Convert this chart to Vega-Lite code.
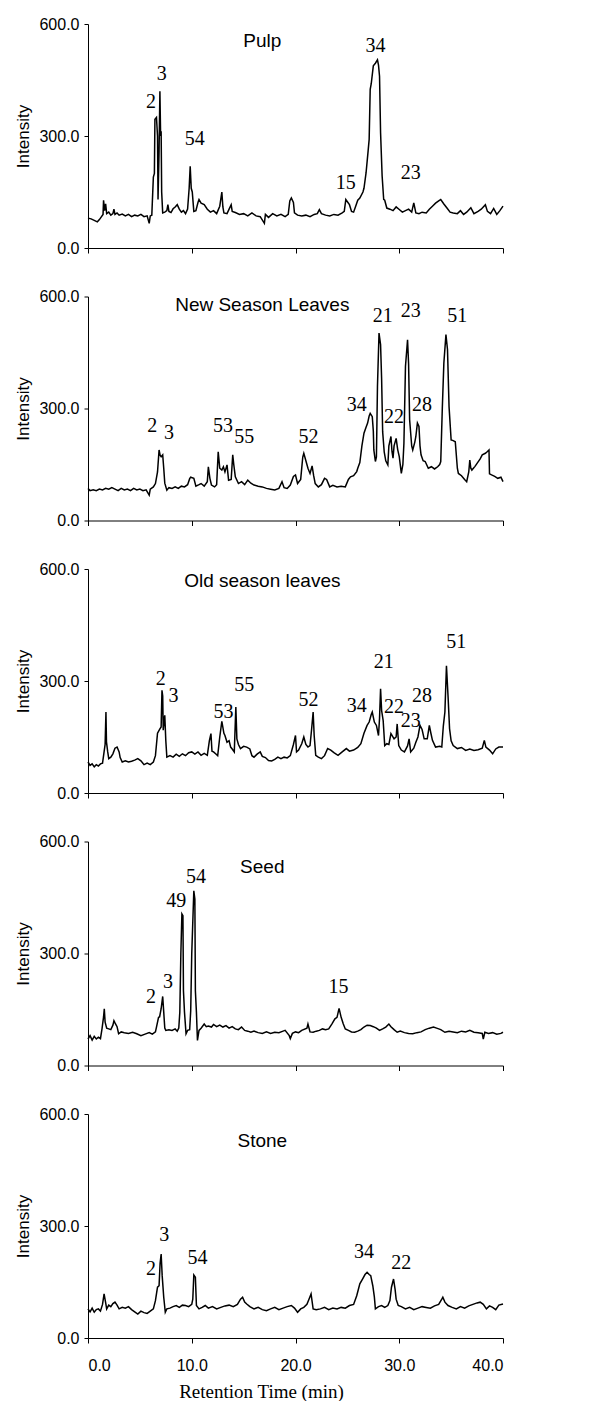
{
"$schema":"https://vega.github.io/schema/vega-lite/v6.json",
"padding":{"left":14,"top":16,"right":5,"bottom":0},
"spacing":48.5,
"bounds":"flush",
"config":{"view":{"stroke":null},"axis":{"grid":false,"domainColor":"black","tickColor":"black","labelColor":"black","titleColor":"black","labelFont":"Liberation Sans","titleFont":"Liberation Sans","labelFontSize":16,"titleFontWeight":"normal","domainWidth":1,"tickWidth":1}},
"datasets":{
"trace":[
{"p":"Pulp","t":0.0,"v":80},{"p":"Pulp","t":0.3,"v":78},{"p":"Pulp","t":0.6,"v":74},{"p":"Pulp","t":0.9,"v":70},{"p":"Pulp","t":1.1,"v":76},{"p":"Pulp","t":1.3,"v":84},{"p":"Pulp","t":1.45,"v":90},{"p":"Pulp","t":1.5,"v":128},{"p":"Pulp","t":1.6,"v":100},{"p":"Pulp","t":1.7,"v":118},{"p":"Pulp","t":1.8,"v":92},{"p":"Pulp","t":2.0,"v":96},{"p":"Pulp","t":2.2,"v":88},{"p":"Pulp","t":2.4,"v":92},{"p":"Pulp","t":2.5,"v":104},{"p":"Pulp","t":2.6,"v":90},{"p":"Pulp","t":2.8,"v":94},{"p":"Pulp","t":3.0,"v":88},{"p":"Pulp","t":3.3,"v":91},{"p":"Pulp","t":3.6,"v":86},{"p":"Pulp","t":3.9,"v":90},{"p":"Pulp","t":4.2,"v":84},{"p":"Pulp","t":4.5,"v":88},{"p":"Pulp","t":4.8,"v":86},{"p":"Pulp","t":5.1,"v":90},{"p":"Pulp","t":5.4,"v":84},{"p":"Pulp","t":5.7,"v":86},{"p":"Pulp","t":5.9,"v":66},{"p":"Pulp","t":6.0,"v":86},{"p":"Pulp","t":6.15,"v":88},{"p":"Pulp","t":6.3,"v":190},{"p":"Pulp","t":6.4,"v":200},{"p":"Pulp","t":6.45,"v":345},{"p":"Pulp","t":6.6,"v":350},{"p":"Pulp","t":6.7,"v":300},{"p":"Pulp","t":6.75,"v":130},{"p":"Pulp","t":6.85,"v":260},{"p":"Pulp","t":6.93,"v":420},{"p":"Pulp","t":7.0,"v":300},{"p":"Pulp","t":7.05,"v":313},{"p":"Pulp","t":7.1,"v":150},{"p":"Pulp","t":7.2,"v":94},{"p":"Pulp","t":7.4,"v":96},{"p":"Pulp","t":7.6,"v":100},{"p":"Pulp","t":7.7,"v":116},{"p":"Pulp","t":7.8,"v":98},{"p":"Pulp","t":8.0,"v":95},{"p":"Pulp","t":8.2,"v":105},{"p":"Pulp","t":8.4,"v":110},{"p":"Pulp","t":8.6,"v":116},{"p":"Pulp","t":8.8,"v":104},{"p":"Pulp","t":9.0,"v":96},{"p":"Pulp","t":9.2,"v":100},{"p":"Pulp","t":9.4,"v":92},{"p":"Pulp","t":9.6,"v":104},{"p":"Pulp","t":9.75,"v":160},{"p":"Pulp","t":9.85,"v":219},{"p":"Pulp","t":9.95,"v":160},{"p":"Pulp","t":10.05,"v":150},{"p":"Pulp","t":10.2,"v":98},{"p":"Pulp","t":10.4,"v":100},{"p":"Pulp","t":10.6,"v":122},{"p":"Pulp","t":10.7,"v":130},{"p":"Pulp","t":10.9,"v":120},{"p":"Pulp","t":11.2,"v":116},{"p":"Pulp","t":11.5,"v":104},{"p":"Pulp","t":11.8,"v":96},{"p":"Pulp","t":12.1,"v":100},{"p":"Pulp","t":12.4,"v":92},{"p":"Pulp","t":12.7,"v":112},{"p":"Pulp","t":12.9,"v":150},{"p":"Pulp","t":13.0,"v":110},{"p":"Pulp","t":13.1,"v":94},{"p":"Pulp","t":13.4,"v":92},{"p":"Pulp","t":13.6,"v":104},{"p":"Pulp","t":13.8,"v":116},{"p":"Pulp","t":13.9,"v":98},{"p":"Pulp","t":14.2,"v":95},{"p":"Pulp","t":14.6,"v":90},{"p":"Pulp","t":15.0,"v":92},{"p":"Pulp","t":15.4,"v":86},{"p":"Pulp","t":15.8,"v":94},{"p":"Pulp","t":16.2,"v":86},{"p":"Pulp","t":16.6,"v":84},{"p":"Pulp","t":17.0,"v":66},{"p":"Pulp","t":17.1,"v":90},{"p":"Pulp","t":17.4,"v":82},{"p":"Pulp","t":17.8,"v":92},{"p":"Pulp","t":18.2,"v":86},{"p":"Pulp","t":18.6,"v":90},{"p":"Pulp","t":19.0,"v":84},{"p":"Pulp","t":19.3,"v":90},{"p":"Pulp","t":19.45,"v":126},{"p":"Pulp","t":19.6,"v":134},{"p":"Pulp","t":19.8,"v":122},{"p":"Pulp","t":19.9,"v":94},{"p":"Pulp","t":20.2,"v":88},{"p":"Pulp","t":20.6,"v":86},{"p":"Pulp","t":21.0,"v":88},{"p":"Pulp","t":21.4,"v":84},{"p":"Pulp","t":21.8,"v":90},{"p":"Pulp","t":22.1,"v":92},{"p":"Pulp","t":22.3,"v":103},{"p":"Pulp","t":22.5,"v":92},{"p":"Pulp","t":22.9,"v":88},{"p":"Pulp","t":23.3,"v":86},{"p":"Pulp","t":23.7,"v":90},{"p":"Pulp","t":24.1,"v":88},{"p":"Pulp","t":24.5,"v":94},{"p":"Pulp","t":24.7,"v":98},{"p":"Pulp","t":24.85,"v":130},{"p":"Pulp","t":25.0,"v":124},{"p":"Pulp","t":25.2,"v":116},{"p":"Pulp","t":25.4,"v":98},{"p":"Pulp","t":25.6,"v":96},{"p":"Pulp","t":25.8,"v":112},{"p":"Pulp","t":26.0,"v":128},{"p":"Pulp","t":26.2,"v":134},{"p":"Pulp","t":26.5,"v":150},{"p":"Pulp","t":26.6,"v":160},{"p":"Pulp","t":26.8,"v":201},{"p":"Pulp","t":27.0,"v":260},{"p":"Pulp","t":27.1,"v":291},{"p":"Pulp","t":27.2,"v":425},{"p":"Pulp","t":27.3,"v":440},{"p":"Pulp","t":27.5,"v":488},{"p":"Pulp","t":27.7,"v":495},{"p":"Pulp","t":27.9,"v":504},{"p":"Pulp","t":28.0,"v":490},{"p":"Pulp","t":28.1,"v":460},{"p":"Pulp","t":28.2,"v":309},{"p":"Pulp","t":28.35,"v":193},{"p":"Pulp","t":28.5,"v":130},{"p":"Pulp","t":28.6,"v":128},{"p":"Pulp","t":28.8,"v":107},{"p":"Pulp","t":29.1,"v":104},{"p":"Pulp","t":29.4,"v":100},{"p":"Pulp","t":29.7,"v":110},{"p":"Pulp","t":30.0,"v":103},{"p":"Pulp","t":30.3,"v":96},{"p":"Pulp","t":30.6,"v":100},{"p":"Pulp","t":30.9,"v":104},{"p":"Pulp","t":31.2,"v":96},{"p":"Pulp","t":31.4,"v":121},{"p":"Pulp","t":31.6,"v":94},{"p":"Pulp","t":31.9,"v":92},{"p":"Pulp","t":32.2,"v":96},{"p":"Pulp","t":32.6,"v":94},{"p":"Pulp","t":32.9,"v":104},{"p":"Pulp","t":33.2,"v":112},{"p":"Pulp","t":33.5,"v":120},{"p":"Pulp","t":33.8,"v":126},{"p":"Pulp","t":34.0,"v":130},{"p":"Pulp","t":34.3,"v":118},{"p":"Pulp","t":34.6,"v":107},{"p":"Pulp","t":34.9,"v":96},{"p":"Pulp","t":35.2,"v":94},{"p":"Pulp","t":35.6,"v":92},{"p":"Pulp","t":35.9,"v":100},{"p":"Pulp","t":36.2,"v":90},{"p":"Pulp","t":36.5,"v":96},{"p":"Pulp","t":36.9,"v":108},{"p":"Pulp","t":37.2,"v":92},{"p":"Pulp","t":37.6,"v":98},{"p":"Pulp","t":37.9,"v":104},{"p":"Pulp","t":38.3,"v":116},{"p":"Pulp","t":38.5,"v":98},{"p":"Pulp","t":38.8,"v":92},{"p":"Pulp","t":39.1,"v":106},{"p":"Pulp","t":39.4,"v":90},{"p":"Pulp","t":39.7,"v":100},{"p":"Pulp","t":40.0,"v":112},
{"p":"New","t":0.0,"v":86},{"p":"New","t":0.2,"v":80},{"p":"New","t":0.5,"v":82},{"p":"New","t":0.8,"v":80},{"p":"New","t":1.1,"v":84},{"p":"New","t":1.4,"v":82},{"p":"New","t":1.7,"v":86},{"p":"New","t":2.0,"v":84},{"p":"New","t":2.3,"v":88},{"p":"New","t":2.6,"v":84},{"p":"New","t":2.9,"v":80},{"p":"New","t":3.2,"v":86},{"p":"New","t":3.5,"v":82},{"p":"New","t":3.8,"v":84},{"p":"New","t":4.1,"v":80},{"p":"New","t":4.4,"v":86},{"p":"New","t":4.7,"v":82},{"p":"New","t":5.0,"v":84},{"p":"New","t":5.3,"v":80},{"p":"New","t":5.6,"v":82},{"p":"New","t":5.9,"v":68},{"p":"New","t":6.0,"v":84},{"p":"New","t":6.3,"v":90},{"p":"New","t":6.5,"v":99},{"p":"New","t":6.7,"v":130},{"p":"New","t":6.85,"v":189},{"p":"New","t":6.95,"v":175},{"p":"New","t":7.05,"v":171},{"p":"New","t":7.2,"v":176},{"p":"New","t":7.3,"v":140},{"p":"New","t":7.4,"v":100},{"p":"New","t":7.6,"v":81},{"p":"New","t":7.8,"v":88},{"p":"New","t":8.1,"v":86},{"p":"New","t":8.4,"v":90},{"p":"New","t":8.7,"v":86},{"p":"New","t":9.0,"v":92},{"p":"New","t":9.3,"v":90},{"p":"New","t":9.6,"v":96},{"p":"New","t":9.8,"v":112},{"p":"New","t":9.9,"v":116},{"p":"New","t":10.2,"v":113},{"p":"New","t":10.4,"v":92},{"p":"New","t":10.7,"v":96},{"p":"New","t":10.9,"v":99},{"p":"New","t":11.2,"v":92},{"p":"New","t":11.5,"v":104},{"p":"New","t":11.6,"v":144},{"p":"New","t":11.75,"v":113},{"p":"New","t":11.9,"v":95},{"p":"New","t":12.2,"v":90},{"p":"New","t":12.4,"v":96},{"p":"New","t":12.55,"v":184},{"p":"New","t":12.7,"v":140},{"p":"New","t":12.9,"v":135},{"p":"New","t":13.05,"v":144},{"p":"New","t":13.2,"v":130},{"p":"New","t":13.4,"v":149},{"p":"New","t":13.55,"v":108},{"p":"New","t":13.8,"v":110},{"p":"New","t":13.95,"v":176},{"p":"New","t":14.05,"v":150},{"p":"New","t":14.2,"v":117},{"p":"New","t":14.5,"v":99},{"p":"New","t":14.8,"v":104},{"p":"New","t":15.1,"v":96},{"p":"New","t":15.4,"v":108},{"p":"New","t":15.7,"v":100},{"p":"New","t":16.0,"v":95},{"p":"New","t":16.4,"v":92},{"p":"New","t":16.8,"v":90},{"p":"New","t":17.2,"v":86},{"p":"New","t":17.6,"v":84},{"p":"New","t":18.0,"v":82},{"p":"New","t":18.4,"v":86},{"p":"New","t":18.7,"v":104},{"p":"New","t":18.9,"v":88},{"p":"New","t":19.2,"v":86},{"p":"New","t":19.5,"v":95},{"p":"New","t":19.8,"v":118},{"p":"New","t":20.0,"v":122},{"p":"New","t":20.2,"v":99},{"p":"New","t":20.5,"v":110},{"p":"New","t":20.7,"v":170},{"p":"New","t":20.8,"v":180},{"p":"New","t":21.0,"v":160},{"p":"New","t":21.2,"v":140},{"p":"New","t":21.4,"v":126},{"p":"New","t":21.6,"v":146},{"p":"New","t":21.75,"v":120},{"p":"New","t":21.9,"v":99},{"p":"New","t":22.2,"v":90},{"p":"New","t":22.5,"v":96},{"p":"New","t":22.8,"v":113},{"p":"New","t":23.0,"v":110},{"p":"New","t":23.3,"v":90},{"p":"New","t":23.6,"v":94},{"p":"New","t":24.0,"v":90},{"p":"New","t":24.4,"v":92},{"p":"New","t":24.8,"v":90},{"p":"New","t":25.1,"v":110},{"p":"New","t":25.3,"v":117},{"p":"New","t":25.6,"v":120},{"p":"New","t":25.9,"v":131},{"p":"New","t":26.0,"v":140},{"p":"New","t":26.2,"v":155},{"p":"New","t":26.4,"v":200},{"p":"New","t":26.6,"v":234},{"p":"New","t":26.8,"v":250},{"p":"New","t":26.95,"v":261},{"p":"New","t":27.1,"v":280},{"p":"New","t":27.2,"v":287},{"p":"New","t":27.4,"v":278},{"p":"New","t":27.5,"v":240},{"p":"New","t":27.55,"v":189},{"p":"New","t":27.7,"v":158},{"p":"New","t":27.8,"v":170},{"p":"New","t":27.9,"v":359},{"p":"New","t":28.05,"v":502},{"p":"New","t":28.2,"v":471},{"p":"New","t":28.3,"v":380},{"p":"New","t":28.4,"v":238},{"p":"New","t":28.55,"v":184},{"p":"New","t":28.7,"v":160},{"p":"New","t":28.9,"v":149},{"p":"New","t":29.0,"v":200},{"p":"New","t":29.2,"v":225},{"p":"New","t":29.3,"v":185},{"p":"New","t":29.4,"v":167},{"p":"New","t":29.5,"v":200},{"p":"New","t":29.7,"v":220},{"p":"New","t":29.85,"v":190},{"p":"New","t":30.0,"v":171},{"p":"New","t":30.2,"v":126},{"p":"New","t":30.35,"v":150},{"p":"New","t":30.45,"v":207},{"p":"New","t":30.6,"v":413},{"p":"New","t":30.8,"v":484},{"p":"New","t":30.9,"v":420},{"p":"New","t":31.0,"v":270},{"p":"New","t":31.2,"v":200},{"p":"New","t":31.3,"v":189},{"p":"New","t":31.5,"v":210},{"p":"New","t":31.6,"v":225},{"p":"New","t":31.75,"v":261},{"p":"New","t":31.9,"v":252},{"p":"New","t":32.0,"v":200},{"p":"New","t":32.1,"v":176},{"p":"New","t":32.3,"v":160},{"p":"New","t":32.5,"v":158},{"p":"New","t":32.8,"v":140},{"p":"New","t":33.1,"v":144},{"p":"New","t":33.4,"v":138},{"p":"New","t":33.7,"v":144},{"p":"New","t":33.9,"v":150},{"p":"New","t":34.0,"v":158},{"p":"New","t":34.15,"v":300},{"p":"New","t":34.3,"v":422},{"p":"New","t":34.5,"v":498},{"p":"New","t":34.65,"v":458},{"p":"New","t":34.8,"v":305},{"p":"New","t":35.0,"v":216},{"p":"New","t":35.2,"v":214},{"p":"New","t":35.4,"v":211},{"p":"New","t":35.6,"v":140},{"p":"New","t":35.7,"v":126},{"p":"New","t":36.0,"v":120},{"p":"New","t":36.3,"v":110},{"p":"New","t":36.5,"v":104},{"p":"New","t":36.7,"v":130},{"p":"New","t":36.8,"v":162},{"p":"New","t":36.9,"v":140},{"p":"New","t":37.0,"v":135},{"p":"New","t":37.3,"v":145},{"p":"New","t":37.5,"v":153},{"p":"New","t":37.8,"v":165},{"p":"New","t":38.0,"v":176},{"p":"New","t":38.3,"v":180},{"p":"New","t":38.5,"v":185},{"p":"New","t":38.65,"v":189},{"p":"New","t":38.7,"v":125},{"p":"New","t":38.9,"v":122},{"p":"New","t":39.2,"v":118},{"p":"New","t":39.5,"v":113},{"p":"New","t":39.8,"v":116},{"p":"New","t":40.0,"v":104},
{"p":"Old","t":0.0,"v":83},{"p":"Old","t":0.2,"v":74},{"p":"Old","t":0.4,"v":78},{"p":"Old","t":0.6,"v":70},{"p":"Old","t":0.8,"v":76},{"p":"Old","t":1.0,"v":72},{"p":"Old","t":1.2,"v":78},{"p":"Old","t":1.4,"v":80},{"p":"Old","t":1.55,"v":110},{"p":"Old","t":1.65,"v":130},{"p":"Old","t":1.73,"v":217},{"p":"Old","t":1.78,"v":137},{"p":"Old","t":1.9,"v":110},{"p":"Old","t":2.0,"v":92},{"p":"Old","t":2.2,"v":96},{"p":"Old","t":2.4,"v":105},{"p":"Old","t":2.6,"v":120},{"p":"Old","t":2.8,"v":123},{"p":"Old","t":3.0,"v":110},{"p":"Old","t":3.1,"v":95},{"p":"Old","t":3.3,"v":83},{"p":"Old","t":3.6,"v":86},{"p":"Old","t":3.9,"v":83},{"p":"Old","t":4.2,"v":85},{"p":"Old","t":4.5,"v":88},{"p":"Old","t":4.8,"v":92},{"p":"Old","t":5.1,"v":86},{"p":"Old","t":5.4,"v":76},{"p":"Old","t":5.7,"v":80},{"p":"Old","t":6.0,"v":76},{"p":"Old","t":6.3,"v":83},{"p":"Old","t":6.5,"v":100},{"p":"Old","t":6.7,"v":160},{"p":"Old","t":6.93,"v":172},{"p":"Old","t":7.05,"v":177},{"p":"Old","t":7.13,"v":275},{"p":"Old","t":7.2,"v":260},{"p":"Old","t":7.25,"v":168},{"p":"Old","t":7.35,"v":200},{"p":"Old","t":7.4,"v":208},{"p":"Old","t":7.5,"v":140},{"p":"Old","t":7.6,"v":96},{"p":"Old","t":7.9,"v":100},{"p":"Old","t":8.2,"v":96},{"p":"Old","t":8.5,"v":104},{"p":"Old","t":8.8,"v":98},{"p":"Old","t":9.1,"v":105},{"p":"Old","t":9.4,"v":100},{"p":"Old","t":9.7,"v":108},{"p":"Old","t":10.0,"v":110},{"p":"Old","t":10.3,"v":104},{"p":"Old","t":10.6,"v":110},{"p":"Old","t":10.9,"v":101},{"p":"Old","t":11.2,"v":106},{"p":"Old","t":11.5,"v":101},{"p":"Old","t":11.7,"v":140},{"p":"Old","t":11.85,"v":159},{"p":"Old","t":11.95,"v":112},{"p":"Old","t":12.1,"v":110},{"p":"Old","t":12.3,"v":105},{"p":"Old","t":12.5,"v":100},{"p":"Old","t":12.7,"v":150},{"p":"Old","t":12.9,"v":192},{"p":"Old","t":13.1,"v":160},{"p":"Old","t":13.2,"v":154},{"p":"Old","t":13.4,"v":136},{"p":"Old","t":13.6,"v":140},{"p":"Old","t":13.75,"v":123},{"p":"Old","t":13.9,"v":118},{"p":"Old","t":14.1,"v":110},{"p":"Old","t":14.2,"v":190},{"p":"Old","t":14.25,"v":230},{"p":"Old","t":14.35,"v":145},{"p":"Old","t":14.5,"v":130},{"p":"Old","t":14.7,"v":119},{"p":"Old","t":15.0,"v":125},{"p":"Old","t":15.3,"v":123},{"p":"Old","t":15.6,"v":118},{"p":"Old","t":15.8,"v":100},{"p":"Old","t":16.0,"v":96},{"p":"Old","t":16.3,"v":104},{"p":"Old","t":16.6,"v":110},{"p":"Old","t":16.8,"v":98},{"p":"Old","t":17.1,"v":95},{"p":"Old","t":17.4,"v":87},{"p":"Old","t":17.7,"v":86},{"p":"Old","t":18.0,"v":90},{"p":"Old","t":18.3,"v":96},{"p":"Old","t":18.6,"v":92},{"p":"Old","t":18.9,"v":96},{"p":"Old","t":19.2,"v":94},{"p":"Old","t":19.5,"v":100},{"p":"Old","t":19.8,"v":130},{"p":"Old","t":20.0,"v":154},{"p":"Old","t":20.1,"v":110},{"p":"Old","t":20.3,"v":115},{"p":"Old","t":20.6,"v":132},{"p":"Old","t":20.8,"v":150},{"p":"Old","t":21.0,"v":130},{"p":"Old","t":21.2,"v":123},{"p":"Old","t":21.4,"v":127},{"p":"Old","t":21.55,"v":170},{"p":"Old","t":21.7,"v":217},{"p":"Old","t":21.8,"v":154},{"p":"Old","t":21.95,"v":101},{"p":"Old","t":22.2,"v":96},{"p":"Old","t":22.5,"v":92},{"p":"Old","t":22.8,"v":100},{"p":"Old","t":23.1,"v":119},{"p":"Old","t":23.4,"v":115},{"p":"Old","t":23.7,"v":108},{"p":"Old","t":24.1,"v":101},{"p":"Old","t":24.5,"v":110},{"p":"Old","t":24.9,"v":119},{"p":"Old","t":25.2,"v":112},{"p":"Old","t":25.6,"v":115},{"p":"Old","t":26.0,"v":122},{"p":"Old","t":26.3,"v":132},{"p":"Old","t":26.6,"v":160},{"p":"Old","t":26.9,"v":181},{"p":"Old","t":27.1,"v":190},{"p":"Old","t":27.3,"v":210},{"p":"Old","t":27.4,"v":217},{"p":"Old","t":27.6,"v":190},{"p":"Old","t":27.8,"v":181},{"p":"Old","t":28.0,"v":154},{"p":"Old","t":28.1,"v":200},{"p":"Old","t":28.2,"v":279},{"p":"Old","t":28.3,"v":221},{"p":"Old","t":28.45,"v":194},{"p":"Old","t":28.6,"v":127},{"p":"Old","t":28.8,"v":132},{"p":"Old","t":29.0,"v":130},{"p":"Old","t":29.2,"v":159},{"p":"Old","t":29.5,"v":145},{"p":"Old","t":29.7,"v":150},{"p":"Old","t":29.8,"v":185},{"p":"Old","t":29.95,"v":127},{"p":"Old","t":30.2,"v":115},{"p":"Old","t":30.5,"v":110},{"p":"Old","t":30.8,"v":126},{"p":"Old","t":30.95,"v":145},{"p":"Old","t":31.1,"v":110},{"p":"Old","t":31.4,"v":120},{"p":"Old","t":31.6,"v":136},{"p":"Old","t":31.8,"v":150},{"p":"Old","t":32.0,"v":181},{"p":"Old","t":32.2,"v":170},{"p":"Old","t":32.4,"v":145},{"p":"Old","t":32.7,"v":145},{"p":"Old","t":32.9,"v":181},{"p":"Old","t":33.05,"v":160},{"p":"Old","t":33.2,"v":141},{"p":"Old","t":33.5,"v":123},{"p":"Old","t":33.9,"v":125},{"p":"Old","t":34.1,"v":123},{"p":"Old","t":34.25,"v":180},{"p":"Old","t":34.4,"v":217},{"p":"Old","t":34.55,"v":341},{"p":"Old","t":34.7,"v":261},{"p":"Old","t":34.85,"v":172},{"p":"Old","t":35.0,"v":140},{"p":"Old","t":35.2,"v":127},{"p":"Old","t":35.6,"v":119},{"p":"Old","t":36.0,"v":122},{"p":"Old","t":36.4,"v":114},{"p":"Old","t":36.8,"v":118},{"p":"Old","t":37.2,"v":114},{"p":"Old","t":37.6,"v":116},{"p":"Old","t":38.0,"v":120},{"p":"Old","t":38.2,"v":141},{"p":"Old","t":38.35,"v":123},{"p":"Old","t":38.7,"v":115},{"p":"Old","t":39.0,"v":105},{"p":"Old","t":39.3,"v":118},{"p":"Old","t":39.6,"v":123},{"p":"Old","t":40.0,"v":123},
{"p":"Seed","t":0.0,"v":71},{"p":"Seed","t":0.2,"v":80},{"p":"Seed","t":0.4,"v":68},{"p":"Seed","t":0.6,"v":78},{"p":"Seed","t":0.8,"v":71},{"p":"Seed","t":1.0,"v":76},{"p":"Seed","t":1.2,"v":72},{"p":"Seed","t":1.35,"v":98},{"p":"Seed","t":1.5,"v":130},{"p":"Seed","t":1.57,"v":152},{"p":"Seed","t":1.65,"v":116},{"p":"Seed","t":1.8,"v":100},{"p":"Seed","t":2.0,"v":98},{"p":"Seed","t":2.2,"v":96},{"p":"Seed","t":2.4,"v":108},{"p":"Seed","t":2.5,"v":120},{"p":"Seed","t":2.6,"v":114},{"p":"Seed","t":2.8,"v":104},{"p":"Seed","t":2.95,"v":85},{"p":"Seed","t":3.2,"v":90},{"p":"Seed","t":3.5,"v":88},{"p":"Seed","t":3.9,"v":86},{"p":"Seed","t":4.3,"v":89},{"p":"Seed","t":4.7,"v":85},{"p":"Seed","t":5.1,"v":80},{"p":"Seed","t":5.5,"v":84},{"p":"Seed","t":5.9,"v":88},{"p":"Seed","t":6.2,"v":84},{"p":"Seed","t":6.5,"v":90},{"p":"Seed","t":6.6,"v":103},{"p":"Seed","t":6.8,"v":129},{"p":"Seed","t":6.9,"v":130},{"p":"Seed","t":7.05,"v":152},{"p":"Seed","t":7.2,"v":185},{"p":"Seed","t":7.3,"v":143},{"p":"Seed","t":7.4,"v":100},{"p":"Seed","t":7.5,"v":94},{"p":"Seed","t":7.8,"v":96},{"p":"Seed","t":8.1,"v":94},{"p":"Seed","t":8.4,"v":98},{"p":"Seed","t":8.6,"v":92},{"p":"Seed","t":8.75,"v":100},{"p":"Seed","t":8.85,"v":143},{"p":"Seed","t":8.95,"v":300},{"p":"Seed","t":9.05,"v":406},{"p":"Seed","t":9.15,"v":401},{"p":"Seed","t":9.2,"v":200},{"p":"Seed","t":9.3,"v":143},{"p":"Seed","t":9.45,"v":85},{"p":"Seed","t":9.6,"v":94},{"p":"Seed","t":9.8,"v":96},{"p":"Seed","t":9.9,"v":147},{"p":"Seed","t":10.0,"v":300},{"p":"Seed","t":10.2,"v":468},{"p":"Seed","t":10.3,"v":446},{"p":"Seed","t":10.35,"v":200},{"p":"Seed","t":10.45,"v":143},{"p":"Seed","t":10.55,"v":67},{"p":"Seed","t":10.7,"v":94},{"p":"Seed","t":10.9,"v":100},{"p":"Seed","t":11.2,"v":111},{"p":"Seed","t":11.4,"v":104},{"p":"Seed","t":11.6,"v":106},{"p":"Seed","t":11.9,"v":103},{"p":"Seed","t":12.1,"v":110},{"p":"Seed","t":12.4,"v":104},{"p":"Seed","t":12.7,"v":108},{"p":"Seed","t":13.0,"v":103},{"p":"Seed","t":13.3,"v":107},{"p":"Seed","t":13.6,"v":100},{"p":"Seed","t":13.9,"v":104},{"p":"Seed","t":14.2,"v":98},{"p":"Seed","t":14.5,"v":96},{"p":"Seed","t":14.8,"v":103},{"p":"Seed","t":15.1,"v":94},{"p":"Seed","t":15.4,"v":92},{"p":"Seed","t":15.7,"v":89},{"p":"Seed","t":16.0,"v":92},{"p":"Seed","t":16.4,"v":88},{"p":"Seed","t":16.8,"v":86},{"p":"Seed","t":17.2,"v":90},{"p":"Seed","t":17.6,"v":86},{"p":"Seed","t":18.0,"v":89},{"p":"Seed","t":18.4,"v":88},{"p":"Seed","t":18.8,"v":92},{"p":"Seed","t":19.0,"v":94},{"p":"Seed","t":19.4,"v":80},{"p":"Seed","t":19.5,"v":72},{"p":"Seed","t":19.7,"v":86},{"p":"Seed","t":20.0,"v":90},{"p":"Seed","t":20.3,"v":88},{"p":"Seed","t":20.6,"v":94},{"p":"Seed","t":21.1,"v":100},{"p":"Seed","t":21.2,"v":111},{"p":"Seed","t":21.4,"v":90},{"p":"Seed","t":21.7,"v":89},{"p":"Seed","t":22.0,"v":92},{"p":"Seed","t":22.3,"v":94},{"p":"Seed","t":22.6,"v":98},{"p":"Seed","t":22.9,"v":96},{"p":"Seed","t":23.2,"v":98},{"p":"Seed","t":23.5,"v":111},{"p":"Seed","t":23.8,"v":125},{"p":"Seed","t":24.0,"v":129},{"p":"Seed","t":24.2,"v":153},{"p":"Seed","t":24.4,"v":129},{"p":"Seed","t":24.6,"v":112},{"p":"Seed","t":24.8,"v":98},{"p":"Seed","t":25.1,"v":94},{"p":"Seed","t":25.4,"v":90},{"p":"Seed","t":25.7,"v":89},{"p":"Seed","t":26.0,"v":92},{"p":"Seed","t":26.3,"v":96},{"p":"Seed","t":26.6,"v":103},{"p":"Seed","t":26.9,"v":108},{"p":"Seed","t":27.2,"v":107},{"p":"Seed","t":27.5,"v":104},{"p":"Seed","t":27.8,"v":100},{"p":"Seed","t":28.1,"v":94},{"p":"Seed","t":28.4,"v":98},{"p":"Seed","t":28.7,"v":103},{"p":"Seed","t":29.0,"v":111},{"p":"Seed","t":29.2,"v":104},{"p":"Seed","t":29.5,"v":96},{"p":"Seed","t":29.8,"v":89},{"p":"Seed","t":30.1,"v":92},{"p":"Seed","t":30.5,"v":88},{"p":"Seed","t":30.9,"v":86},{"p":"Seed","t":31.3,"v":85},{"p":"Seed","t":31.7,"v":88},{"p":"Seed","t":32.1,"v":90},{"p":"Seed","t":32.5,"v":96},{"p":"Seed","t":32.9,"v":100},{"p":"Seed","t":33.3,"v":103},{"p":"Seed","t":33.6,"v":100},{"p":"Seed","t":34.0,"v":96},{"p":"Seed","t":34.4,"v":89},{"p":"Seed","t":34.8,"v":92},{"p":"Seed","t":35.2,"v":90},{"p":"Seed","t":35.6,"v":88},{"p":"Seed","t":36.0,"v":92},{"p":"Seed","t":36.4,"v":90},{"p":"Seed","t":36.8,"v":94},{"p":"Seed","t":37.2,"v":89},{"p":"Seed","t":37.6,"v":88},{"p":"Seed","t":38.0,"v":86},{"p":"Seed","t":38.1,"v":71},{"p":"Seed","t":38.25,"v":89},{"p":"Seed","t":38.6,"v":86},{"p":"Seed","t":39.0,"v":88},{"p":"Seed","t":39.4,"v":84},{"p":"Seed","t":39.8,"v":86},{"p":"Seed","t":40.0,"v":89},
{"p":"Stone","t":0.0,"v":78},{"p":"Stone","t":0.2,"v":70},{"p":"Stone","t":0.4,"v":80},{"p":"Stone","t":0.6,"v":69},{"p":"Stone","t":0.8,"v":76},{"p":"Stone","t":1.0,"v":78},{"p":"Stone","t":1.2,"v":72},{"p":"Stone","t":1.4,"v":90},{"p":"Stone","t":1.55,"v":118},{"p":"Stone","t":1.7,"v":95},{"p":"Stone","t":1.8,"v":78},{"p":"Stone","t":2.0,"v":88},{"p":"Stone","t":2.2,"v":84},{"p":"Stone","t":2.4,"v":92},{"p":"Stone","t":2.6,"v":96},{"p":"Stone","t":2.8,"v":88},{"p":"Stone","t":3.0,"v":78},{"p":"Stone","t":3.3,"v":82},{"p":"Stone","t":3.6,"v":80},{"p":"Stone","t":3.9,"v":84},{"p":"Stone","t":4.2,"v":76},{"p":"Stone","t":4.5,"v":70},{"p":"Stone","t":4.8,"v":64},{"p":"Stone","t":5.1,"v":72},{"p":"Stone","t":5.4,"v":68},{"p":"Stone","t":5.7,"v":66},{"p":"Stone","t":6.0,"v":72},{"p":"Stone","t":6.3,"v":78},{"p":"Stone","t":6.5,"v":100},{"p":"Stone","t":6.7,"v":136},{"p":"Stone","t":6.85,"v":140},{"p":"Stone","t":6.95,"v":200},{"p":"Stone","t":7.05,"v":225},{"p":"Stone","t":7.15,"v":167},{"p":"Stone","t":7.3,"v":109},{"p":"Stone","t":7.45,"v":69},{"p":"Stone","t":7.6,"v":78},{"p":"Stone","t":7.9,"v":80},{"p":"Stone","t":8.2,"v":84},{"p":"Stone","t":8.5,"v":87},{"p":"Stone","t":8.8,"v":82},{"p":"Stone","t":9.1,"v":88},{"p":"Stone","t":9.4,"v":87},{"p":"Stone","t":9.7,"v":84},{"p":"Stone","t":10.0,"v":90},{"p":"Stone","t":10.1,"v":104},{"p":"Stone","t":10.2,"v":169},{"p":"Stone","t":10.35,"v":163},{"p":"Stone","t":10.45,"v":87},{"p":"Stone","t":10.7,"v":78},{"p":"Stone","t":11.0,"v":82},{"p":"Stone","t":11.3,"v":87},{"p":"Stone","t":11.6,"v":80},{"p":"Stone","t":12.0,"v":84},{"p":"Stone","t":12.4,"v":78},{"p":"Stone","t":12.8,"v":82},{"p":"Stone","t":13.2,"v":86},{"p":"Stone","t":13.6,"v":88},{"p":"Stone","t":14.0,"v":84},{"p":"Stone","t":14.4,"v":90},{"p":"Stone","t":14.7,"v":104},{"p":"Stone","t":14.9,"v":109},{"p":"Stone","t":15.1,"v":96},{"p":"Stone","t":15.3,"v":91},{"p":"Stone","t":15.6,"v":84},{"p":"Stone","t":16.0,"v":78},{"p":"Stone","t":16.4,"v":82},{"p":"Stone","t":16.8,"v":76},{"p":"Stone","t":17.2,"v":73},{"p":"Stone","t":17.6,"v":78},{"p":"Stone","t":18.0,"v":82},{"p":"Stone","t":18.4,"v":76},{"p":"Stone","t":18.8,"v":80},{"p":"Stone","t":19.2,"v":84},{"p":"Stone","t":19.6,"v":87},{"p":"Stone","t":19.9,"v":80},{"p":"Stone","t":20.2,"v":69},{"p":"Stone","t":20.5,"v":78},{"p":"Stone","t":20.8,"v":82},{"p":"Stone","t":21.1,"v":90},{"p":"Stone","t":21.3,"v":104},{"p":"Stone","t":21.5,"v":118},{"p":"Stone","t":21.7,"v":78},{"p":"Stone","t":22.0,"v":76},{"p":"Stone","t":22.4,"v":78},{"p":"Stone","t":22.8,"v":82},{"p":"Stone","t":23.2,"v":76},{"p":"Stone","t":23.6,"v":80},{"p":"Stone","t":24.0,"v":78},{"p":"Stone","t":24.4,"v":82},{"p":"Stone","t":24.8,"v":80},{"p":"Stone","t":25.2,"v":87},{"p":"Stone","t":25.6,"v":90},{"p":"Stone","t":25.9,"v":113},{"p":"Stone","t":26.2,"v":145},{"p":"Stone","t":26.5,"v":160},{"p":"Stone","t":26.7,"v":170},{"p":"Stone","t":26.9,"v":176},{"p":"Stone","t":27.1,"v":170},{"p":"Stone","t":27.25,"v":167},{"p":"Stone","t":27.45,"v":140},{"p":"Stone","t":27.6,"v":110},{"p":"Stone","t":27.7,"v":78},{"p":"Stone","t":28.0,"v":84},{"p":"Stone","t":28.3,"v":87},{"p":"Stone","t":28.6,"v":82},{"p":"Stone","t":28.9,"v":87},{"p":"Stone","t":29.1,"v":100},{"p":"Stone","t":29.25,"v":136},{"p":"Stone","t":29.45,"v":158},{"p":"Stone","t":29.6,"v":130},{"p":"Stone","t":29.7,"v":104},{"p":"Stone","t":29.9,"v":87},{"p":"Stone","t":30.2,"v":84},{"p":"Stone","t":30.6,"v":78},{"p":"Stone","t":31.0,"v":82},{"p":"Stone","t":31.4,"v":76},{"p":"Stone","t":31.8,"v":80},{"p":"Stone","t":32.2,"v":84},{"p":"Stone","t":32.6,"v":82},{"p":"Stone","t":33.0,"v":80},{"p":"Stone","t":33.4,"v":86},{"p":"Stone","t":33.8,"v":90},{"p":"Stone","t":34.1,"v":104},{"p":"Stone","t":34.2,"v":109},{"p":"Stone","t":34.4,"v":96},{"p":"Stone","t":34.7,"v":87},{"p":"Stone","t":35.1,"v":82},{"p":"Stone","t":35.5,"v":78},{"p":"Stone","t":35.9,"v":84},{"p":"Stone","t":36.3,"v":80},{"p":"Stone","t":36.7,"v":86},{"p":"Stone","t":37.1,"v":90},{"p":"Stone","t":37.5,"v":94},{"p":"Stone","t":37.8,"v":96},{"p":"Stone","t":38.1,"v":90},{"p":"Stone","t":38.4,"v":78},{"p":"Stone","t":38.7,"v":86},{"p":"Stone","t":39.0,"v":82},{"p":"Stone","t":39.3,"v":76},{"p":"Stone","t":39.6,"v":88},{"p":"Stone","t":40.0,"v":91}
],
"peaks":[
{"p":"Pulp","t":6.07,"v":390,"s":"2"},{"p":"Pulp","t":7.1,"v":466,"s":"3"},{"p":"Pulp","t":10.3,"v":291,"s":"54"},{"p":"Pulp","t":24.85,"v":173,"s":"15"},{"p":"Pulp","t":27.7,"v":542,"s":"34"},{"p":"Pulp","t":31.1,"v":201,"s":"23"},
{"p":"New","t":6.2,"v":253,"s":"2"},{"p":"New","t":7.8,"v":234,"s":"3"},{"p":"New","t":13.0,"v":252,"s":"53"},{"p":"New","t":15.05,"v":225,"s":"55"},{"p":"New","t":21.25,"v":225,"s":"52"},{"p":"New","t":25.9,"v":310,"s":"34"},{"p":"New","t":28.4,"v":547,"s":"21"},{"p":"New","t":29.5,"v":278,"s":"22"},{"p":"New","t":31.1,"v":560,"s":"23"},{"p":"New","t":32.2,"v":310,"s":"28"},{"p":"New","t":35.6,"v":547,"s":"51"},
{"p":"Old","t":7.0,"v":306,"s":"2"},{"p":"Old","t":8.25,"v":261,"s":"3"},{"p":"Old","t":13.05,"v":217,"s":"53"},{"p":"Old","t":15.05,"v":288,"s":"55"},{"p":"Old","t":21.25,"v":248,"s":"52"},{"p":"Old","t":25.9,"v":234,"s":"34"},{"p":"Old","t":28.5,"v":350,"s":"21"},{"p":"Old","t":29.5,"v":230,"s":"22"},{"p":"Old","t":31.1,"v":194,"s":"23"},{"p":"Old","t":32.2,"v":261,"s":"28"},{"p":"Old","t":35.5,"v":404,"s":"51"},
{"p":"Seed","t":6.07,"v":183,"s":"2"},{"p":"Seed","t":7.7,"v":223,"s":"3"},{"p":"Seed","t":8.5,"v":441,"s":"49"},{"p":"Seed","t":10.4,"v":504,"s":"54"},{"p":"Seed","t":24.15,"v":210,"s":"15"},
{"p":"Stone","t":6.07,"v":185,"s":"2"},{"p":"Stone","t":7.35,"v":276,"s":"3"},{"p":"Stone","t":10.55,"v":214,"s":"54"},{"p":"Stone","t":26.6,"v":230,"s":"34"},{"p":"Stone","t":30.2,"v":201,"s":"22"}
],
"names":[
{"p":"Pulp","t":16.8,"v":555,"s":"Pulp"},{"p":"New","t":16.8,"v":577,"s":"New Season Leaves"},{"p":"Old","t":16.8,"v":569,"s":"Old season leaves"},{"p":"Seed","t":16.8,"v":533,"s":"Seed"},{"p":"Stone","t":16.8,"v":527,"s":"Stone"}
]
},
"vconcat":[
{"width":415,"height":224,
"encoding":{"x":{"field":"t","type":"quantitative","scale":{"domain":[0,40],"nice":false},"axis":{"values":[0,10,20,30,40],"labels":false,"title":null,"tickSize":5}},"y":{"field":"v","type":"quantitative","scale":{"domain":[0,600],"nice":false},"axis":{"values":[0,300,600],"format":".1f","tickSize":4,"labelPadding":5,"title":"Intensity","titleFontSize":17,"titlePadding":6}}},
"layer":[
{"data":{"name":"trace"},"transform":[{"filter":"datum.p=='Pulp'"}],"mark":{"type":"line","color":"black","strokeWidth":1.5}},
{"data":{"name":"peaks"},"transform":[{"filter":"datum.p=='Pulp'"}],"mark":{"type":"text","font":"Liberation Serif","fontSize":20,"color":"black","baseline":"middle"},"encoding":{"text":{"field":"s"}}},
{"data":{"name":"names"},"transform":[{"filter":"datum.p=='Pulp'"}],"mark":{"type":"text","font":"Liberation Sans","fontSize":19,"color":"black","baseline":"middle"},"encoding":{"text":{"field":"s"}}}
]},
{"width":415,"height":224,
"encoding":{"x":{"field":"t","type":"quantitative","scale":{"domain":[0,40],"nice":false},"axis":{"values":[0,10,20,30,40],"labels":false,"title":null,"tickSize":5}},"y":{"field":"v","type":"quantitative","scale":{"domain":[0,600],"nice":false},"axis":{"values":[0,300,600],"format":".1f","tickSize":4,"labelPadding":5,"title":"Intensity","titleFontSize":17,"titlePadding":6}}},
"layer":[
{"data":{"name":"trace"},"transform":[{"filter":"datum.p=='New'"}],"mark":{"type":"line","color":"black","strokeWidth":1.5}},
{"data":{"name":"peaks"},"transform":[{"filter":"datum.p=='New'"}],"mark":{"type":"text","font":"Liberation Serif","fontSize":20,"color":"black","baseline":"middle"},"encoding":{"text":{"field":"s"}}},
{"data":{"name":"names"},"transform":[{"filter":"datum.p=='New'"}],"mark":{"type":"text","font":"Liberation Sans","fontSize":19,"color":"black","baseline":"middle"},"encoding":{"text":{"field":"s"}}}
]},
{"width":415,"height":224,
"encoding":{"x":{"field":"t","type":"quantitative","scale":{"domain":[0,40],"nice":false},"axis":{"values":[0,10,20,30,40],"labels":false,"title":null,"tickSize":5}},"y":{"field":"v","type":"quantitative","scale":{"domain":[0,600],"nice":false},"axis":{"values":[0,300,600],"format":".1f","tickSize":4,"labelPadding":5,"title":"Intensity","titleFontSize":17,"titlePadding":6}}},
"layer":[
{"data":{"name":"trace"},"transform":[{"filter":"datum.p=='Old'"}],"mark":{"type":"line","color":"black","strokeWidth":1.5}},
{"data":{"name":"peaks"},"transform":[{"filter":"datum.p=='Old'"}],"mark":{"type":"text","font":"Liberation Serif","fontSize":20,"color":"black","baseline":"middle"},"encoding":{"text":{"field":"s"}}},
{"data":{"name":"names"},"transform":[{"filter":"datum.p=='Old'"}],"mark":{"type":"text","font":"Liberation Sans","fontSize":19,"color":"black","baseline":"middle"},"encoding":{"text":{"field":"s"}}}
]},
{"width":415,"height":224,
"encoding":{"x":{"field":"t","type":"quantitative","scale":{"domain":[0,40],"nice":false},"axis":{"values":[0,10,20,30,40],"labels":false,"title":null,"tickSize":5}},"y":{"field":"v","type":"quantitative","scale":{"domain":[0,600],"nice":false},"axis":{"values":[0,300,600],"format":".1f","tickSize":4,"labelPadding":5,"title":"Intensity","titleFontSize":17,"titlePadding":6}}},
"layer":[
{"data":{"name":"trace"},"transform":[{"filter":"datum.p=='Seed'"}],"mark":{"type":"line","color":"black","strokeWidth":1.5}},
{"data":{"name":"peaks"},"transform":[{"filter":"datum.p=='Seed'"}],"mark":{"type":"text","font":"Liberation Serif","fontSize":20,"color":"black","baseline":"middle"},"encoding":{"text":{"field":"s"}}},
{"data":{"name":"names"},"transform":[{"filter":"datum.p=='Seed'"}],"mark":{"type":"text","font":"Liberation Sans","fontSize":19,"color":"black","baseline":"middle"},"encoding":{"text":{"field":"s"}}}
]},
{"width":415,"height":224,
"encoding":{"x":{"field":"t","type":"quantitative","scale":{"domain":[0,40],"nice":false},"axis":{"values":[0,10,20,30,40],"format":".1f","tickSize":5,"labelPadding":14,"title":"Retention Time (min)","titleFont":"Liberation Serif","titleFontSize":19,"titleX":173,"titleAlign":"center","titlePadding":9}},"y":{"field":"v","type":"quantitative","scale":{"domain":[0,600],"nice":false},"axis":{"values":[0,300,600],"format":".1f","tickSize":4,"labelPadding":5,"title":"Intensity","titleFontSize":17,"titlePadding":6}}},
"layer":[
{"data":{"name":"trace"},"transform":[{"filter":"datum.p=='Stone'"}],"mark":{"type":"line","color":"black","strokeWidth":1.5}},
{"data":{"name":"peaks"},"transform":[{"filter":"datum.p=='Stone'"}],"mark":{"type":"text","font":"Liberation Serif","fontSize":20,"color":"black","baseline":"middle"},"encoding":{"text":{"field":"s"}}},
{"data":{"name":"names"},"transform":[{"filter":"datum.p=='Stone'"}],"mark":{"type":"text","font":"Liberation Sans","fontSize":19,"color":"black","baseline":"middle"},"encoding":{"text":{"field":"s"}}}
]}
]
}
